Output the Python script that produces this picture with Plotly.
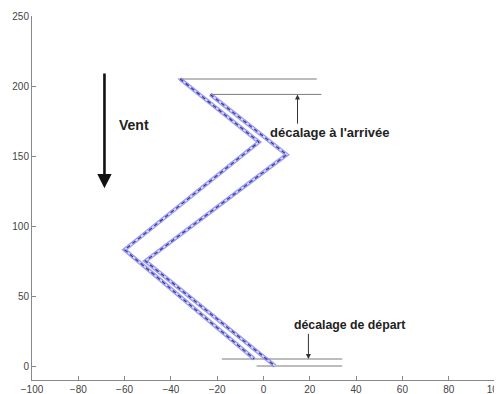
import plotly.graph_objects as go

# Trajectories (data coordinates)
path1_x = [-36, -2, -60, -4]
path1_y = [205, 160, 83, 5]
path2_x = [-23, 10, -51, 5]
path2_y = [194, 151, 75, 0]

# Reference horizontal lines: (y, x_start, x_end)
ref_lines = [(205, -37, 23), (194, -23, 25), (5, -18, 34), (0, -3, 34)]

x_ticks = [-100, -80, -60, -40, -20, 0, 20, 40, 60, 80, 100]
y_ticks = [0, 50, 100, 150, 200, 250]

fig = go.Figure()

for y, x0, x1 in ref_lines:
    fig.add_trace(go.Scatter(x=[x0, x1], y=[y, y], mode="lines",
                             line=dict(color="#7a7a7a", width=1), hoverinfo="skip"))

for px, py in [(path1_x, path1_y), (path2_x, path2_y)]:
    fig.add_trace(go.Scatter(x=px, y=py, mode="lines",
                             line=dict(color="rgba(110,110,245,0.7)", width=4), hoverinfo="skip"))
    fig.add_trace(go.Scatter(x=px, y=py, mode="lines",
                             line=dict(color="rgba(220,220,255,1)", width=1.5), hoverinfo="skip"))
    fig.add_trace(go.Scatter(x=px, y=py, mode="lines",
                             line=dict(color="#3a3a8a", width=1.3, dash="4px,3px"), hoverinfo="skip"))

ff = "Liberation Sans, Arial, sans-serif"

ann = [
    # arrival offset arrow
    dict(x=14.7, y=194, ax=14.7, ay=172, xref="x", yref="y", axref="x", ayref="y",
         showarrow=True, arrowhead=2, arrowsize=1, arrowwidth=1, arrowcolor="#333", text=""),
    dict(x=2.0, y=167, text="décalage à l'arrivée", showarrow=False, xanchor="left",
         yanchor="middle", font=dict(family=ff, color="#222", size=13, weight="bold")),
    # departure offset arrow
    dict(x=19.4, y=5, ax=19.4, ay=24, xref="x", yref="y", axref="x", ayref="y",
         showarrow=True, arrowhead=2, arrowsize=1, arrowwidth=1, arrowcolor="#333", text=""),
    dict(x=12.3, y=29, text="décalage de départ", showarrow=False, xanchor="left",
         yanchor="middle", font=dict(family=ff, color="#222", size=12.3, weight="bold")),
    # wind arrow
    dict(x=-68.7, y=127, ax=-68.7, ay=210, xref="x", yref="y", axref="x", ayref="y",
         showarrow=True, arrowhead=2, arrowsize=1.1, arrowwidth=2.6, arrowcolor="#111", text=""),
    dict(x=-63.5, y=172, text="Vent", showarrow=False, xanchor="left", yanchor="middle",
         font=dict(family=ff, color="#222", size=14, weight="bold")),
]

tickfont = dict(family=ff, size=10, color="#444")

# The page body has an 8px margin, so the figure is sized to fit the 502x394 window.
fig.update_layout(
    width=494, height=386,
    margin=dict(l=24, r=7, t=8, b=14, autoexpand=False),
    paper_bgcolor="white", plot_bgcolor="white",
    showlegend=False,
    annotations=ann,
    xaxis=dict(range=[-100, 100], tickvals=x_ticks, ticks="inside", ticklen=4,
               tickcolor="#888", showline=True, linecolor="#888", linewidth=1,
               showgrid=False, zeroline=False, automargin=False,
               ticklabeloverflow="allow", tickfont=tickfont),
    yaxis=dict(range=[-10, 250], tickvals=y_ticks, ticks="inside", ticklen=4,
               tickcolor="#888", showline=True, linecolor="#888", linewidth=1,
               showgrid=False, zeroline=False, automargin=False,
               ticklabeloverflow="allow", tickfont=tickfont),
)

fig.write_html("out.html")
